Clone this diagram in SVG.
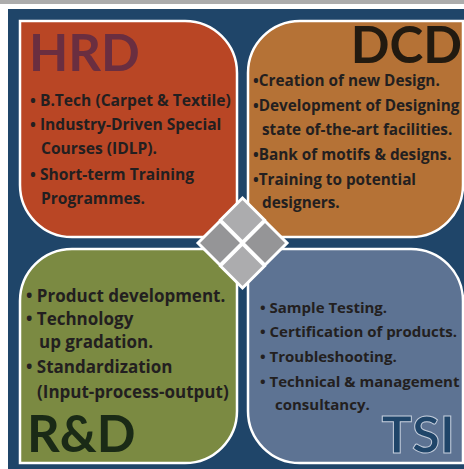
<svg xmlns="http://www.w3.org/2000/svg" width="464" height="469" viewBox="0 0 464 469">
<style>
.box{stroke:#ffffff;stroke-width:2.5}
.t{font-family:"Open Sans",Lato,"Liberation Sans",sans-serif;font-weight:bold;font-size:15px;fill:#231f20}
.title{font-family:Lato,"Open Sans","Liberation Sans",sans-serif;font-weight:bold;font-size:51px}
.dia{stroke:#ffffff;stroke-width:3}
</style>
<rect x="0" y="0" width="464" height="469" fill="#ffffff"/>
<rect x="0" y="0" width="464" height="4" fill="#acacac"/>
<rect x="8" y="9" width="456" height="460" fill="#1f4569"/>

<g id="hrd">
<path class="box" fill="#b94625" d="M20,21 H185 A52,52 0 0 1 237,73 V237 H72 A52,52 0 0 1 20,185 Z"/>
<text class="title" x="29" y="71" fill="#6a2e40">HRD</text>
<text class="t" style="font-size:15.6px"><tspan x="30" y="106">• B.Tech (Carpet &amp; Textile)</tspan><tspan x="30" y="130">• Industry-Driven Special</tspan><tspan x="41" y="154">Courses (IDLP).</tspan><tspan x="30" y="180">• Short-term Training</tspan><tspan x="41" y="204">Programmes.</tspan></text>
</g>

<g id="dcd">
<path class="box" fill="#b57236" d="M300,21 H463 V185 A52,52 0 0 1 411,237 H248 V73 A52,52 0 0 1 300,21 Z"/>
<text class="title" x="462" y="63" text-anchor="end" fill="#221a10">DCD</text>
<text class="t" style="font-size:15.3px"><tspan x="253" y="86">•Creation of new Design.</tspan><tspan x="253" y="111">•Development of Designing</tspan><tspan x="262" y="135">state of-the-art facilities.</tspan><tspan x="253" y="160">•Bank of motifs &amp; designs.</tspan><tspan x="253" y="185">•Training to potential</tspan><tspan x="262" y="208">designers.</tspan></text>
</g>

<g id="rnd">
<path class="box" fill="#7b8a42" d="M72,249 H237 V411 A52,52 0 0 1 185,463 H20 V301 A52,52 0 0 1 72,249 Z"/>
<text class="t" style="font-size:17px"><tspan x="26" y="302">• Product development.</tspan><tspan x="26" y="325">• Technology</tspan><tspan x="39" y="348">up gradation.</tspan><tspan x="26" y="373">• Standardization</tspan><tspan x="37" y="398">(Input-process-output)</tspan></text>
<text class="title" x="27" y="452" fill="#1a2a16">R&amp;D</text>
</g>

<g id="tsi">
<path class="box" fill="#5d7393" d="M248,249 H411 A52,52 0 0 1 463,301 V463 H300 A52,52 0 0 1 248,411 Z"/>
<text class="t"><tspan x="260" y="313">• Sample Testing.</tspan><tspan x="260" y="337">• Certification of products.</tspan><tspan x="260" y="362">• Troubleshooting.</tspan><tspan x="260" y="387">• Technical &amp; management</tspan><tspan x="275" y="410">consultancy.</tspan></text>
<text class="title" x="455" y="453" text-anchor="end" fill="#1f4569" stroke="#c5cedc" stroke-width="1">TSI</text>
</g>

<g id="center">
<path class="dia" fill="#acacae" d="M242.5,198 L264.5,220 L242.5,242 L220.5,220 Z"/>
<path class="dia" fill="#959597" d="M198,243 L220,221 L242,243 L220,265 Z"/>
<path class="dia" fill="#959597" d="M243,243 L265,221 L287,243 L265,265 Z"/>
<path class="dia" fill="#acacae" d="M242.5,244 L264.5,266 L242.5,288 L220.5,266 Z"/>
</g>
<g id="connectors"></g>
</svg>
